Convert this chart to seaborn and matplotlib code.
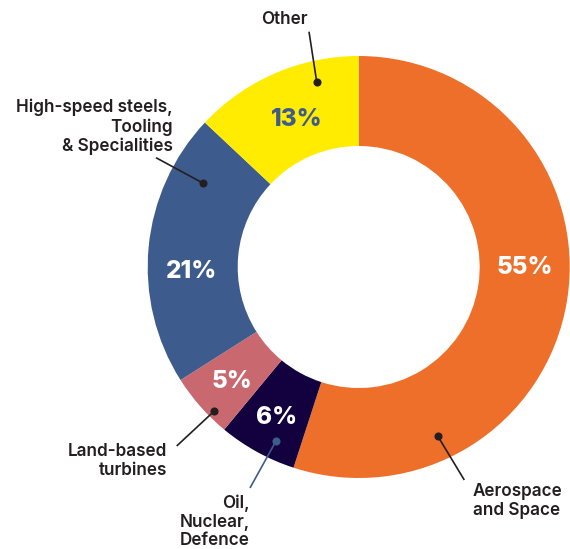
import matplotlib
matplotlib.use("Agg")
import matplotlib.pyplot as plt
import seaborn as sns

# ---- data ----
categories = ["Aerospace\nand Space", "Oil,\nNuclear,\nDefence", "Land-based\nturbines",
              "High-speed steels,\nTooling\n& Specialities", "Other"]
shares = [55, 6, 5, 21, 13]
colors = ["#EE6F2A", "#12003F", "#C9686F", "#3E5B8E", "#FFEC00"]
pct_colors = ["white", "white", "white", "white", "#3E5B8E"]

sns.set_theme(style="white")
plt.rcParams["font.family"] = ["Inter", "DejaVu Sans"]

W, H = 570, 549
fig = plt.figure(figsize=(W / 100, H / 100), dpi=100)
ax = fig.add_axes([0, 0, 1, 1])

def P(x, y):
    return (x, H - y)

cx, cy = P(358.7, 267)
R = 211
ring = 90

ax.pie(shares, colors=colors, startangle=90, counterclock=False,
       center=(cx, cy), radius=R,
       wedgeprops=dict(width=ring, edgecolor="none", linewidth=0))
ax.set_xlim(0, W)
ax.set_ylim(0, H)
ax.set_aspect("equal")
ax.axis("off")

# percentage label positions (pixels)
pct_pos = [(525, 268), (276.7, 418), (231.7, 381.7), (191.7, 271.7), (296.7, 120)]
for v, c, (x, y) in zip(shares, pct_colors, pct_pos):
    ax.text(*P(x, y), f"{v}%", color=c, fontsize=17.5, fontweight="heavy",
            ha="center", va="center")

# leader lines: dot position, line end, text anchor, alignment
text_col = "#231F20"
leaders = [
    dict(dot=(437.7, 436), end=(464.3, 480), txt=(473, 501), ha="left", dotc=text_col, linec=text_col),
    dict(dot=(276, 441), end=(250, 488), txt=(250, 522), ha="right", dotc="#3E5B8E", linec="#3E5B8E"),
    dict(dot=(214.3, 411), end=(176.7, 446), txt=(167, 461), ha="right", dotc=text_col, linec=text_col),
    dict(dot=(203.3, 183.3), end=(156, 157.7), txt=(173, 127), ha="right", dotc=text_col, linec=text_col),
    dict(dot=(316.7, 81.7), end=(309, 31.7), txt=(284, 19.5), ha="center", dotc=text_col, linec=text_col),
]
for lab, L in zip(categories, leaders):
    (dx, dy), (ex, ey) = P(*L["dot"]), P(*L["end"])
    ax.plot([dx, ex], [dy, ey], color=L["linec"], lw=1.2, solid_capstyle="butt")
    ax.scatter([dx], [dy], s=34, color=L["dotc"], zorder=5, linewidths=0)
    ax.text(*P(*L["txt"]), lab, color=text_col, fontsize=12.3, fontweight="semibold",
            ha=L["ha"], va="center", linespacing=1.13, multialignment=L["ha"])

fig.savefig("out.png", dpi=100)
